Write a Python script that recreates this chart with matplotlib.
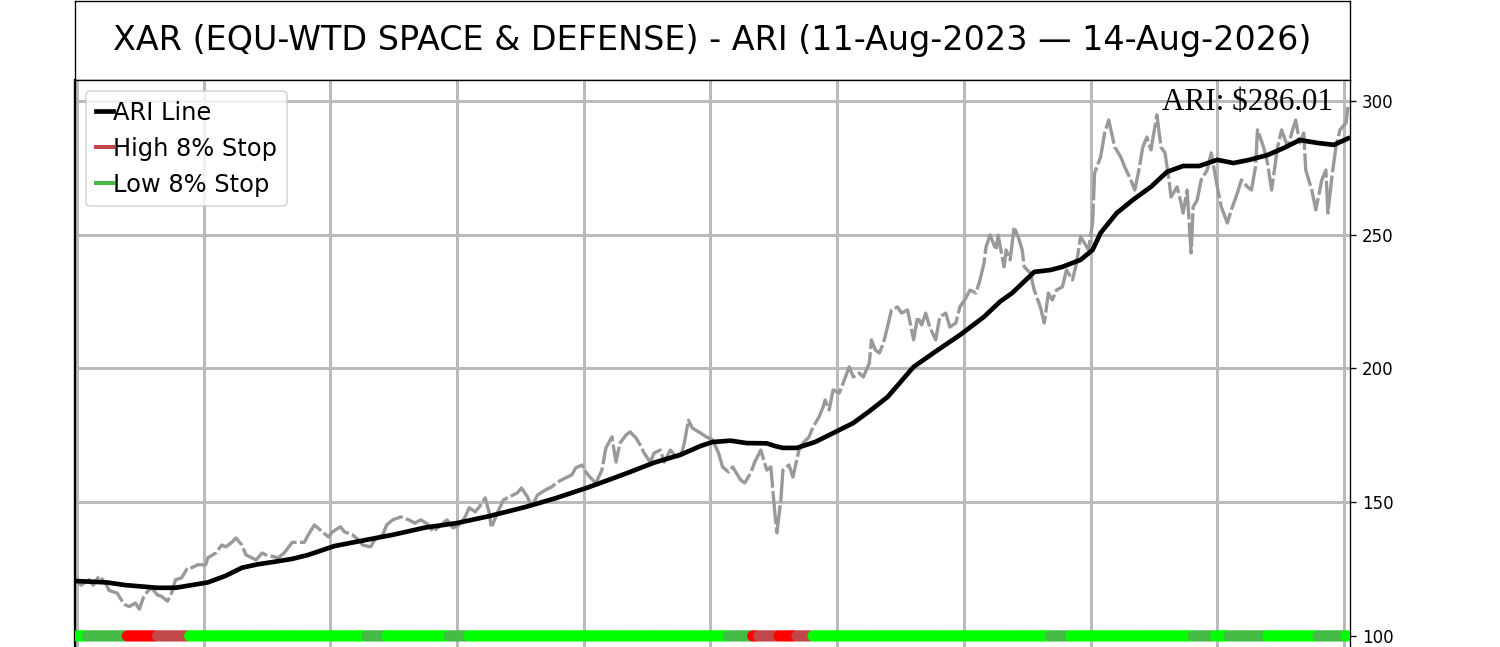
import numpy as np
import matplotlib
matplotlib.use("Agg")
import matplotlib.pyplot as plt
from matplotlib.lines import Line2D

# price (grey): trading-day index and close
price_idx = [0, 2, 6, 8, 11, 14, 16, 20, 22, 24, 26, 29, 31, 33, 35, 37, 40, 42, 45, 47,
             49, 52, 55, 57, 60, 64, 65, 69, 72, 74, 77, 79, 82, 84, 87, 89, 92, 94, 98, 100,
             103, 107, 109, 113, 115, 118, 122, 125, 127, 131, 133, 137, 140, 142, 146, 148, 152, 154, 157, 161,
             165, 168, 171, 175, 177, 180, 184, 187, 190, 193, 195, 198, 200, 203, 205, 206, 209, 212, 215, 219,
             221, 224, 226, 229, 233, 236, 239, 243, 246, 248, 251, 253, 255, 258, 261, 263, 266, 268, 270, 273,
             275, 278, 280, 282, 285, 287, 290, 292, 295, 297, 300, 302, 304, 306, 310, 313, 316, 319, 321, 324,
             326, 330, 332, 335, 337, 340, 343, 345, 347, 348, 350, 351, 354, 356, 359, 361, 364, 366, 369, 371,
             372, 374, 376, 379, 381, 384, 386, 389, 391, 394, 395, 397, 399, 401, 403, 405, 408, 410, 413, 414,
             416, 418, 420, 422, 424, 427, 429, 432, 434, 437, 439, 442, 444, 447, 449, 451, 452, 454, 457, 458,
             461, 462, 464, 466, 468, 470, 471, 474, 476, 479, 481, 483, 485, 487, 490, 492, 495, 497, 499, 501,
             503, 505, 506, 509, 511, 513, 516, 519, 521, 524, 526, 528, 530, 532, 534, 537, 539, 541, 543, 544,
             547, 549, 550, 552, 554, 555, 557, 559, 562, 564, 567, 569, 572, 574, 577, 579, 582, 584, 586, 587,
             590, 592, 594, 597, 599, 602, 604, 606, 608, 610, 611, 614, 616, 619, 621, 622, 624, 626, 628, 631,
             632]
price_val = [121, 119, 121, 119, 122.4, 120, 117, 116, 113.5, 111.6, 111, 112.3, 110, 114.3, 116.6, 118, 115.3, 114.8, 113, 116,
             121, 121.7, 125.5, 125.5, 126.6, 126.6, 129.2, 131, 134, 133.3, 135, 136.6, 134, 130.3, 129.2, 128.4, 131, 130.3, 129.6, 129.2,
             131, 135, 135, 135, 137.8, 141.5, 138.9, 137, 138.9, 140.8, 138.9, 137.8, 135.9, 134, 133.3, 135.9, 137.8, 141.5, 143.4, 144.5,
             143.4, 142.2, 143.4, 141.5, 138.9, 140.8, 143.4, 140.4, 141.5, 144.5, 147.9, 146.4, 148.2, 151.6, 146, 140.4, 146, 150.8, 152, 153.5,
             155.3, 152, 148.2, 152.7, 154.6, 155.7, 157.6, 159.1, 160.2, 162.8, 163.9, 161.3, 159.4, 157.2, 162, 170.3, 174.4, 165, 172.1, 175.1,
             176.3, 174, 171.4, 168.4, 165, 168.4, 169.5, 165, 169.5, 167.7, 166.5, 172.1, 180.7, 177.7, 175.9, 174.4, 173.3, 168.4, 163.2, 161.3,
             163.2, 158.3, 157.2, 160.9, 165, 169.5, 162, 163.2, 146, 138.5, 150.8, 162, 163.9, 159.4, 169.5, 172.1, 174.4, 178.1, 181.9, 185.6,
             188.2, 184.5, 192, 190.8, 194.6, 200.6, 196.8, 198.3, 196.8, 202, 210.7, 206.9, 205.8, 209.5, 215.5, 221.9, 223, 220.7, 221.9, 218.1,
             210.7, 219.3, 216.3, 220.7, 215.5, 210.7, 219.3, 220.7, 215.5, 217, 223, 226.4, 229.3, 228.2, 233.1, 239.4, 245.4, 249.9, 244.3, 249.9,
             238, 244.3, 240.6, 252.9, 249.2, 244.3, 238, 235.7, 229.3, 223, 217, 228.2, 225.6, 229.3, 230.5, 236.8, 233.1, 239.4, 249.2, 246.9,
             244.3, 254.4, 273.1, 279.1, 288, 292.9, 282.8, 279.1, 275.3, 270.5, 266.7, 274.2, 282.8, 286.5, 281.7, 294.8, 282.8, 280.6, 270.5, 264.1,
             267.9, 261.9, 258.1, 266.7, 243.2, 260.4, 263, 270.5, 274.2, 280.6, 267.9, 260.4, 254.4, 259.3, 265.6, 270.5, 267.9, 266.7, 275.3, 289.2,
             282.8, 276.8, 266.7, 282.8, 289.2, 282.8, 288, 292.9, 284.3, 288, 274.2, 266.7, 259.3, 270.5, 274.2, 258.1, 271.6, 282.8, 289.2, 291.8,
             297.8]

# ARI line (black)
ari_idx = [0, 15, 24, 32, 40, 49, 57, 65, 74, 82, 90, 98, 107, 115, 128, 141, 157, 173, 189, 205,
           223, 238, 254, 265, 275, 287, 300, 310, 316, 325, 333, 343, 347, 351, 358, 367, 374, 386, 394, 403,
           409, 416, 428, 439, 451, 459, 465, 476, 484, 490, 499, 505, 509, 517, 525, 534, 542, 550, 558, 567,
           575, 583, 592, 600, 608, 617, 625, 632]
ari_val = [120.5, 120, 119, 118.5, 118, 118, 119, 120, 122.5, 125.5, 126.8, 127.7, 128.8, 130.3, 133.6, 135.5, 137.8, 140.5, 142.2, 144.8,
           148.2, 151.5, 155.5, 158.5, 161.3, 164.8, 167.7, 171, 172.5, 173, 172.1, 172, 171, 170.3, 170.3, 172.5, 175.1, 179.6, 184, 189.3,
           194.5, 200.6, 206.9, 212.5, 219.3, 225, 228.2, 236.1, 236.8, 238, 240.6, 244.3, 250.7, 258.1, 263, 267.9, 273.5, 275.7, 275.7, 278,
           276.8, 278, 279.8, 282.4, 285.4, 284.3, 283.6, 286.01]

# stop strip: run starts (index) and state of each run
stop_starts = [0, 5, 25, 40, 56, 144, 154, 185, 195, 324, 336, 339, 349, 358, 366,
               484, 494, 555, 566, 573, 592, 617, 631]
stop_states = ['lo', 'lo8', 'hi', 'hi8', 'lo', 'lo8', 'lo', 'lo8', 'lo', 'lo8', 'hi', 'hi8', 'hi', 'hi8', 'lo',
               'lo8', 'lo', 'lo8', 'lo', 'lo8', 'lo', 'lo8', 'lo']
n_days = 633

title = 'XAR (EQU-WTD SPACE & DEFENSE) - ARI (11-Aug-2023 \u2014 14-Aug-2026)'
last_ari = 286.01

state_colors = {'lo': '#00ff00', 'lo8': '#44bb44', 'hi': '#ff0000', 'hi8': '#c04848'}

fig = plt.figure(figsize=(12.5, 647 / 120), dpi=120)

# title box
tax = fig.add_axes([0.05, 1 - 80 / 647, 0.85, 79 / 647])
tax.set_xticks([])
tax.set_yticks([])
tax.text(0.5, 0.5, title, ha='center', va='center', fontsize=20, transform=tax.transAxes)

ax = fig.add_axes([0.05, -13 / 647, 0.85, 580 / 647])
ax.spines['left'].set_linewidth(1.4)

for y in [100, 150, 200, 250, 300]:
    ax.axhline(y, color='#bababa', lw=1.8, zorder=0)
for x in range(0, n_days, 63):
    ax.axvline(x, color='#bababa', lw=1.8, zorder=0)

ax.plot(price_idx, price_val, color='#999999', lw=2.0, ls=(0, (10, 1)), zorder=2)
ax.plot(ari_idx, ari_val, color='black', lw=2.8, solid_joinstyle='round', zorder=3)

states = []
for i, (s, st) in enumerate(zip(stop_starts, stop_states)):
    end = stop_starts[i + 1] if i + 1 < len(stop_starts) else n_days
    states += [st] * (end - s)
ax.scatter(np.arange(n_days), np.full(n_days, 100), c=[state_colors[s] for s in states],
           s=44, marker='o', linewidths=0, zorder=4)

ax.set_xlim(-1, 633)
ax.set_ylim(91.0, 307.85)
ax.set_xticks([])
ax.yaxis.tick_right()
ax.set_yticks([100, 150, 200, 250, 300])
ax.tick_params(axis='y', labelsize=10)

ax.text(0.9867, 0.986, 'ARI: \\$%.2f' % last_ari, transform=ax.transAxes, ha='right', va='top',
        fontsize=18.7, family='Liberation Serif', zorder=5)

handles = [Line2D([], [], color='black', lw=2.8),
           Line2D([], [], color='#c04848', lw=2.4),
           Line2D([], [], color='#44bb44', lw=2.4)]
ax.legend(handles, ['ARI Line', 'High 8% Stop', 'Low 8% Stop'], loc='upper left',
          fontsize=14.5, handlelength=0.73, handletextpad=0.0, borderaxespad=0.45)

fig.savefig('out.png', dpi=120)
